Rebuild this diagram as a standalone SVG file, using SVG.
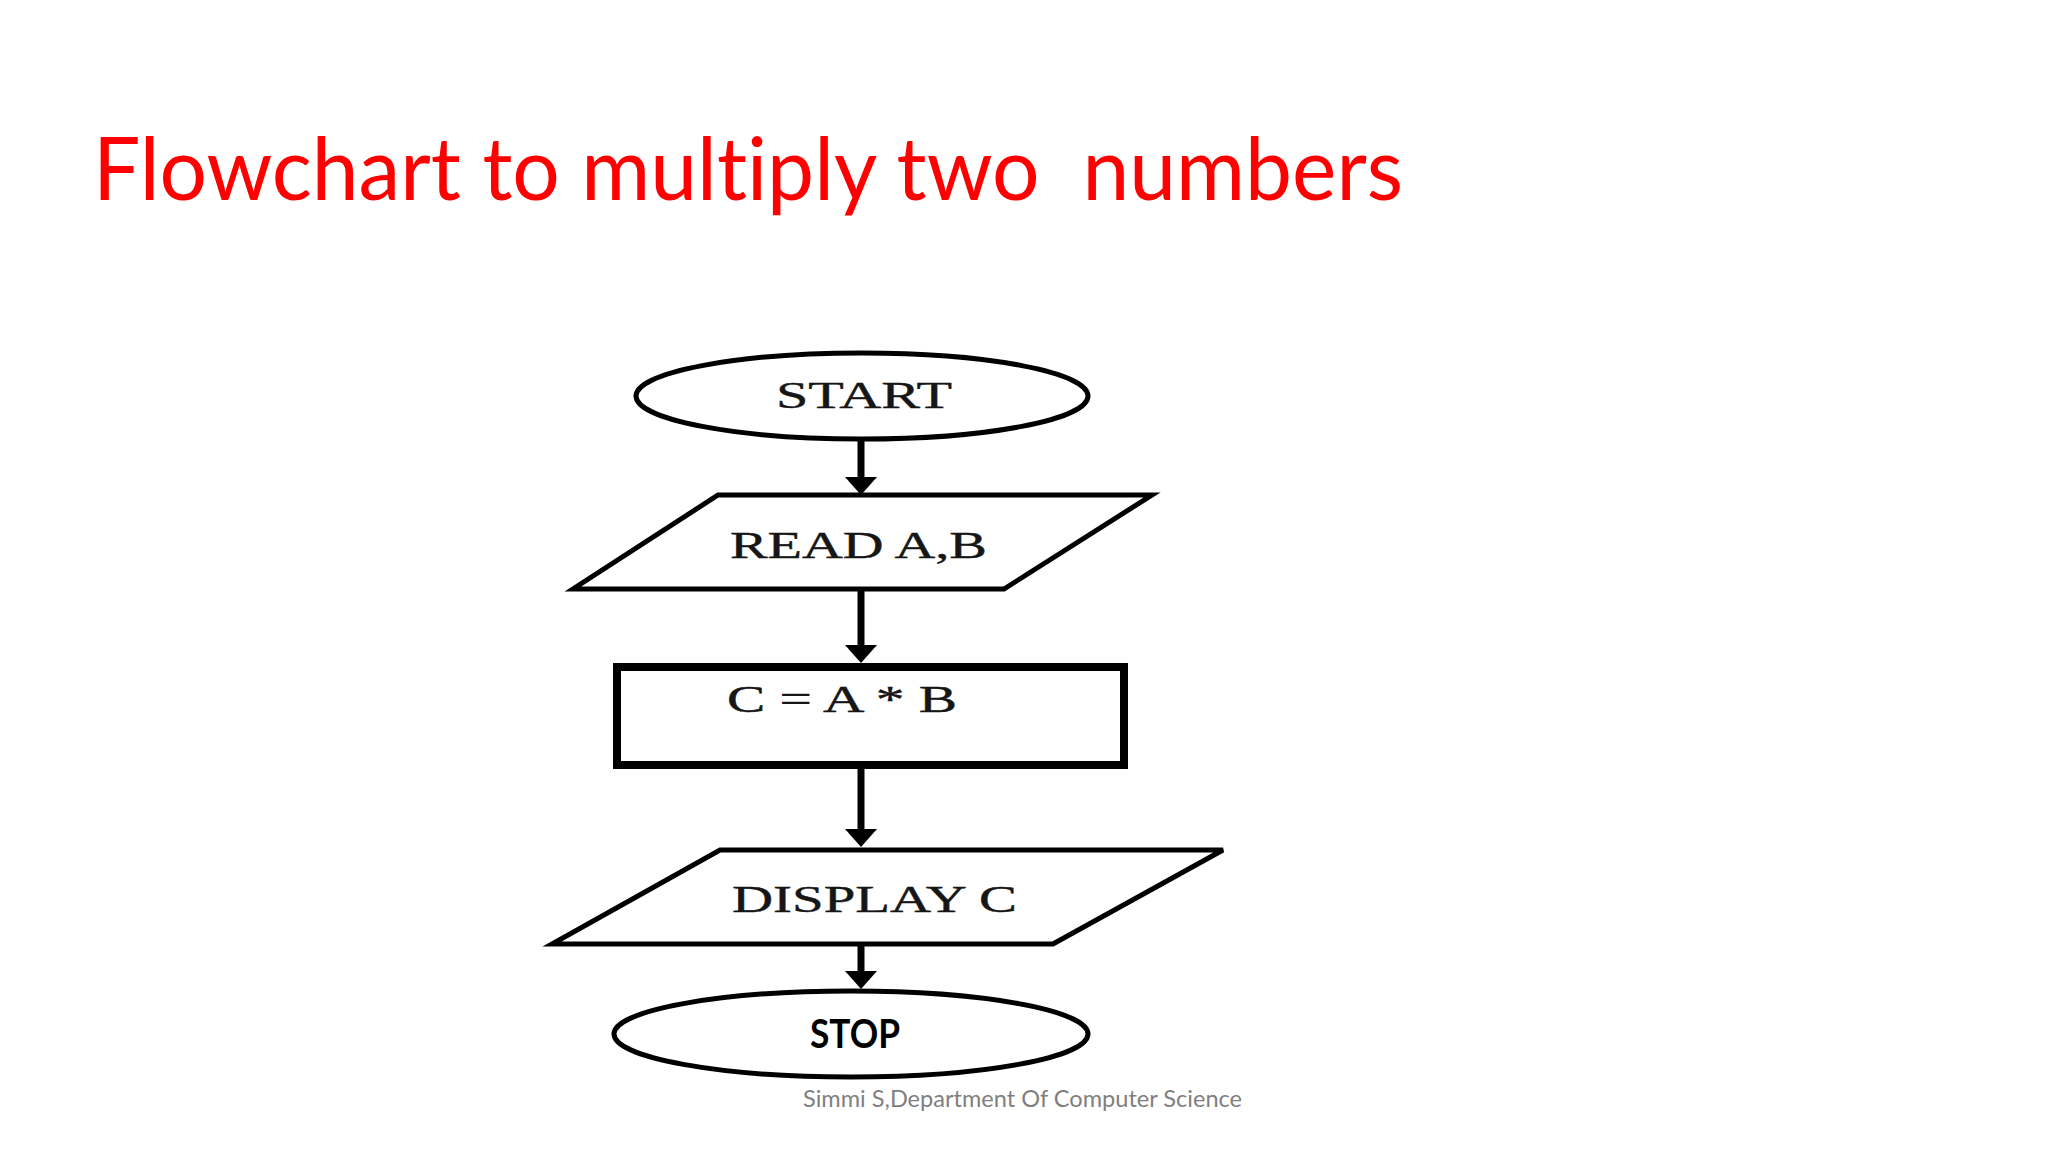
<svg xmlns="http://www.w3.org/2000/svg" width="2048" height="1152" viewBox="0 0 2048 1152">
  <style>
    .shape { fill: #ffffff; stroke: #000000; stroke-width: 5; }
    .serif { font-family: "Liberation Serif", "Times New Roman", serif; font-size: 38px; fill: #161616; stroke: #161616; stroke-width: 0.4; }
    .conn { stroke: #000000; stroke-width: 7; fill: none; }
    .sans { font-family: Lato, "Liberation Sans", sans-serif; font-variant-ligatures: none; font-feature-settings: "liga" 0, "dlig" 0; }
  </style>
  <defs>
    <marker id="arrow" viewBox="0 0 18 32" refX="0" refY="16" markerWidth="18" markerHeight="32" markerUnits="userSpaceOnUse" orient="auto">
      <path d="M0,0 L18,16 L0,32 Z" fill="#000000"/>
    </marker>
  </defs>
  <rect x="0" y="0" width="2048" height="1152" fill="#ffffff"/>

  <text id="title" class="sans" x="93" y="200" font-size="88" fill="#ff0000" textLength="1310" lengthAdjust="spacingAndGlyphs" xml:space="preserve">Flowchart to multiply two  numbers</text>

  <g id="connectors">
    <line class="conn" x1="861" y1="440" x2="861" y2="477" marker-end="url(#arrow)"/>
    <line class="conn" x1="861" y1="591" x2="861" y2="645" marker-end="url(#arrow)"/>
    <line class="conn" x1="861" y1="769" x2="861" y2="829" marker-end="url(#arrow)"/>
    <line class="conn" x1="861" y1="946" x2="861" y2="971" marker-end="url(#arrow)"/>
  </g>

  <g id="node-start">
    <ellipse class="shape" cx="862" cy="396" rx="226" ry="43"/>
    <text class="serif" x="776" y="408" textLength="176" lengthAdjust="spacingAndGlyphs">START</text>
  </g>

  <g id="node-read">
    <polygon class="shape" points="718,495 1152,495 1004,589 573,589"/>
    <text class="serif" x="730" y="558" textLength="257" lengthAdjust="spacingAndGlyphs">READ A,B</text>
  </g>

  <g id="node-process">
    <rect x="617" y="667" width="507" height="98" fill="#ffffff" stroke="#000000" stroke-width="8"/>
    <text class="serif" x="727" y="712" textLength="230" lengthAdjust="spacingAndGlyphs">C = A * B</text>
  </g>

  <g id="node-display">
    <polygon class="shape" points="720,850 1223,850 1053,944 552,944"/>
    <text class="serif" x="732" y="912" textLength="285" lengthAdjust="spacingAndGlyphs">DISPLAY C</text>
  </g>

  <g id="node-stop">
    <ellipse class="shape" cx="851" cy="1034" rx="237" ry="43"/>
    <text class="sans" x="810" y="1048" font-weight="bold" font-size="40" fill="#000000" textLength="90" lengthAdjust="spacingAndGlyphs">STOP</text>
  </g>

  <text id="footer" class="sans" x="803" y="1107" font-size="23" fill="#7f7f7f" textLength="439" lengthAdjust="spacingAndGlyphs">Simmi S,Department Of Computer Science</text>
</svg>
